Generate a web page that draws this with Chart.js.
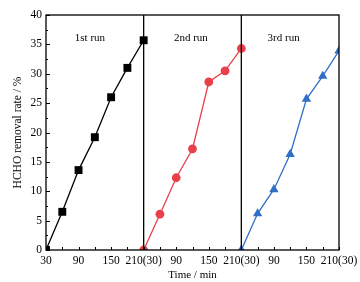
<!DOCTYPE html>
<html>
<head>
<meta charset="utf-8">
<script src="https://cdn.jsdelivr.net/npm/chart.js@4"></script>
<style>
  html, body { margin: 0; padding: 0; background: #fff; }
  #wrap { width: 360px; height: 282px; }
</style>
</head>
<body>
<div id="wrap"><canvas id="chart" width="360" height="282"></canvas></div>
<script>
// time points of each run (min)
var times = [30, 60, 90, 120, 150, 180, 210];
// HCHO removal rate (%) per run
var run1 = [0, 6.5, 13.6, 19.2, 26.0, 31.0, 35.7];
var run2 = [0, 6.1, 12.3, 17.2, 28.6, 30.5, 34.3];
var run3 = [0, 6.2, 10.3, 16.3, 25.7, 29.6, 33.9];
var runNames = ['1st run', '2nd run', '3rd run'];
var runColors = ['#000000', '#e8414b', '#2f6fc6'];
var runMarkers = ['rect', 'circle', 'triangle'];
var xTickLabels = {30: '30', 90: '90', 150: '150', 210: '210(30)', 270: '90', 330: '150',
                   390: '210(30)', 450: '90', 510: '150', 570: '210(30)'};

var FONT = 'Liberation Serif, Times New Roman, serif';

function runData(vals, k) {
    return times.map(function (t, i) { return { x: t + 180 * k, y: vals[i] }; });
}

var radii = [5.6, 4.4, 5.4];
var datasets = [run1, run2, run3].map(function (vals, k) {
    return {
        label: runNames[k],
        data: runData(vals, k),
        borderColor: runColors[k],
        backgroundColor: runColors[k],
        borderWidth: 1.3,
        pointStyle: runMarkers[k],
        pointRadius: radii[k],
        pointBorderWidth: 0,
        tension: 0
    };
});

// box, inward ticks, run separators and run labels
var decor = {
    id: 'decor',
    afterDatasetsDraw: function (chart) {
        var c = chart.ctx;
        var xs = chart.scales.x, ys = chart.scales.y;
        var L = xs.getPixelForValue(30), R = xs.getPixelForValue(570);
        var T = ys.getPixelForValue(40), B = ys.getPixelForValue(0);
        c.save();
        c.strokeStyle = '#000';
        c.lineWidth = 1.3;
        // run separators
        [210, 390].forEach(function (v) {
            var px = xs.getPixelForValue(v);
            c.beginPath(); c.moveTo(px, B); c.lineTo(px, T); c.stroke();
        });
        c.strokeRect(L, T, R - L, B - T);
        c.lineWidth = 1;
        // x ticks (inward)
        for (var v = 30; v <= 570; v += 30) {
            var px = Math.round(xs.getPixelForValue(v)) + 0.5;
            c.beginPath(); c.moveTo(px, B); c.lineTo(px, B - 3); c.stroke();
        }
        // y ticks (inward), minor every 2.5
        for (var y = 0; y <= 40; y += 2.5) {
            var py = Math.round(ys.getPixelForValue(y)) + 0.5;
            var len = (y % 5 === 0) ? 4 : 2;
            c.beginPath(); c.moveTo(L, py); c.lineTo(L + len, py); c.stroke();
        }
        // run labels
        c.fillStyle = '#000';
        c.font = '11px ' + FONT;
        c.textAlign = 'center';
        c.textBaseline = 'middle';
        [111, 297, 468].forEach(function (v, k) {
            c.fillText(runNames[k], xs.getPixelForValue(v), ys.getPixelForValue(36.1));
        });
        c.restore();
    }
};

new Chart(document.getElementById('chart'), {
    type: 'line',
    data: { datasets: datasets },
    options: {
        responsive: false,
        animation: false,
        layout: { padding: { left: 0, right: 21, top: 15, bottom: 0 } },
        plugins: { legend: { display: false }, tooltip: { enabled: false } },
        scales: {
            x: {
                type: 'linear',
                min: 30,
                max: 570,
                afterFit: function (s) { s.height = 32; s.paddingLeft = 0; s.paddingRight = 0; },
                grid: { display: false, drawTicks: false },
                border: { display: false },
                ticks: {
                    stepSize: 60,
                    autoSkip: false,
                    maxRotation: 0,
                    padding: 4,
                    color: '#000',
                    font: { family: FONT, size: 11.5 },
                    callback: function (v) { return xTickLabels[v] || ''; }
                },
                title: {
                    display: true,
                    text: 'Time / min',
                    color: '#000',
                    font: { family: FONT, size: 11 },
                    padding: { top: -3, bottom: 0 }
                }
            },
            y: {
                min: 0,
                max: 40,
                afterFit: function (s) { s.width = 46; },
                grid: { display: false, drawTicks: false },
                border: { display: false },
                ticks: {
                    stepSize: 5,
                    padding: 4,
                    color: '#000',
                    font: { family: FONT, size: 11.5 }
                },
                title: {
                    display: true,
                    text: 'HCHO removal rate / %',
                    color: '#000',
                    font: { family: FONT, size: 11.5 },
                    padding: { top: 11, bottom: 0 }
                }
            }
        }
    },
    plugins: [decor]
});
</script>
</body>
</html>
